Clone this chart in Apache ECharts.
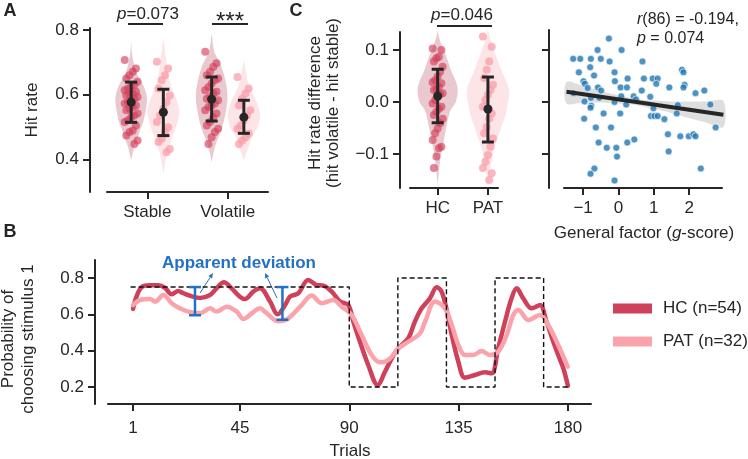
<!DOCTYPE html>
<html><head><meta charset="utf-8">
<script src="https://cdn.jsdelivr.net/npm/echarts@6/dist/echarts.min.js"></script>
<style>html,body{margin:0;padding:0;background:#fff}#c{width:748px;height:459px}</style>
</head><body><div id="c"></div>
<script>
// ---------------- DATA ----------------
// Panel A: hit rate per condition (strip points)
const conditionsA = ['Stable', 'Volatile'];
const hitHC_Stable = [0.707,0.681,0.671,0.660,0.650,0.640,0.630,0.625,0.619,0.614,0.609,0.604,0.601,0.598,0.593,0.588,0.583,0.578,0.573,0.567,0.562,0.557,0.552,0.542,0.536,0.531,0.521,0.516,0.505,0.490,0.485,0.474,0.459,0.448];
const hitPAT_Stable = [0.702,0.681,0.660,0.645,0.619,0.598,0.578,0.557,0.536,0.516,0.500,0.485,0.464,0.454,0.433,0.423];
const hitHC_Volatile = [0.733,0.697,0.686,0.671,0.660,0.650,0.645,0.635,0.624,0.614,0.609,0.604,0.593,0.588,0.583,0.573,0.567,0.562,0.552,0.542,0.531,0.516,0.505,0.495,0.485,0.469,0.448];
const hitPAT_Volatile = [0.655,0.619,0.604,0.588,0.567,0.552,0.536,0.521,0.505,0.495,0.480,0.469,0.459,0.448];
// Panel A: mean and error bars [Stable, Volatile]
const hitMeanHC = [0.577, 0.586], hitLowHC = [0.515, 0.519], hitHighHC = [0.639, 0.655];
const hitMeanPAT = [0.546, 0.531], hitLowPAT = [0.474, 0.481], hitHighPAT = [0.617, 0.583];
// Panel A violin outlines: [hit rate, half width]
const violinHC_Stable = [[0.765,0],[0.73,0.01],[0.70,0.03],[0.66,0.08],[0.63,0.15],[0.60,0.19],[0.578,0.196],[0.55,0.18],[0.516,0.15],[0.49,0.11],[0.464,0.075],[0.44,0.04],[0.42,0.02],[0.397,0]];
const violinPAT_Stable = [[0.775,0],[0.71,0.033],[0.66,0.06],[0.61,0.12],[0.58,0.17],[0.552,0.196],[0.52,0.18],[0.495,0.15],[0.47,0.11],[0.443,0.075],[0.42,0.045],[0.40,0.03],[0.356,0]];
const violinHC_Volatile = [[0.79,0],[0.733,0.033],[0.70,0.10],[0.65,0.165],[0.598,0.196],[0.547,0.175],[0.495,0.125],[0.454,0.06],[0.418,0.02],[0.392,0]];
const violinPAT_Volatile = [[0.707,0],[0.66,0.033],[0.63,0.06],[0.609,0.10],[0.57,0.17],[0.536,0.2],[0.50,0.17],[0.474,0.11],[0.433,0.05],[0.397,0]];

// Panel C left: hit rate difference (volatile - stable)
const groupsC = ['HC', 'PAT'];
const diffHC = [0.103,0.100,0.087,0.084,0.078,0.068,0.058,0.049,0.042,0.038,0.036,0.029,0.025,0.023,0.017,0.015,0.010,0.004,-0.003,-0.009,-0.013,-0.019,-0.025,-0.032,-0.041,-0.051,-0.060,-0.073,-0.086,-0.089,-0.105,-0.127];
const diffPAT = [0.126,0.106,0.078,0.062,0.046,0.033,0.023,0.014,0.004,-0.009,-0.022,-0.032,-0.048,-0.060,-0.070,-0.086,-0.102,-0.115,-0.127,-0.137,-0.150];
const diffMean = [0.0115, -0.0135], diffLow = [-0.040, -0.077], diffHigh = [0.063, 0.048];
const violinC_HC = [[0.137,0],[0.12,0.04],[0.10,0.12],[0.08,0.2],[0.062,0.26],[0.04,0.36],[0.023,0.4],[0.0,0.36],[-0.015,0.26],[-0.035,0.2],[-0.054,0.16],[-0.075,0.12],[-0.092,0.08],[-0.12,0.04],[-0.16,0]];
const violinC_PAT = [[0.14,0],[0.12,0.05],[0.10,0.12],[0.068,0.24],[0.04,0.36],[0.023,0.42],[0.0,0.40],[-0.028,0.34],[-0.05,0.26],[-0.073,0.18],[-0.09,0.12],[-0.112,0.08],[-0.13,0.04],[-0.16,0]];

// Panel C right: g-score vs hit rate difference
const gScore = [-0.27,-0.59,0.09,-1.28,-1.08,-0.78,-0.50,-0.25,-0.80,-1.12,-0.11,-0.69,-0.99,-0.95,-0.10,0.26,-0.87,-0.58,-0.49,0.06,0.24,-1.27,-0.78,-0.54,-0.96,-0.77,-0.79,-0.11,0.08,0.22,0.43,0.50,-0.97,-0.42,0.05,-0.64,-0.21,-0.56,-0.33,-0.06,0.25,0.45,-0.04,-0.68,-0.79,-0.11,0.68,0.72,0.97,1.11,1.07,0.66,0.90,1.44,0.92,1.02,1.11,1.30,1.80,1.84,1.87,1.84,2.18,2.43,1.68,1.65,2.60,2.75,1.40,1.75,1.99,2.12,2.18,1.42,2.33,0.99];
const gHitDiff = [0.122,0.100,0.100,0.083,0.083,0.083,0.083,0.078,0.067,0.057,0.057,0.051,0.040,0.035,0.040,0.045,0.027,0.028,0.022,0.028,0.028,0.017,0.008,0.008,0.001,-0.007,-0.011,0.0,0.011,-0.005,0.011,0.005,-0.032,-0.022,-0.022,-0.049,-0.049,-0.078,-0.088,-0.088,-0.078,-0.072,-0.105,-0.128,-0.138,-0.151,0.078,0.045,0.045,0.045,0.035,0.022,0.010,0.028,-0.027,-0.027,-0.027,-0.033,0.062,0.057,0.033,0.028,0.017,0.022,-0.006,-0.022,-0.005,-0.049,-0.062,-0.066,-0.066,-0.062,-0.066,-0.095,-0.128,-0.012];
const regG = [-1.47, 2.97], regV = [0.0196, -0.0244];
const bandG = [-1.47,-1,-0.5,0,0.5,1,1.5,2,2.5,2.97];
const bandLo = [-0.003,-0.001,-0.001,-0.003,-0.006,-0.013,-0.021,-0.031,-0.040,-0.048];
const bandHi = [0.039,0.031,0.021,0.013,0.006,0.003,0.001,0.001,0.001,0.002];

// Panel B: probability of choosing stimulus 1 across trials
const trialTicks = [1, 45, 90, 135, 180];
const trialsHC = [1,2.5,4.6,8,11.4,14.2,16.9,19.6,21.7,25,28.6,32.7,35.4,38.4,41.6,45,47.1,50.5,53.3,57.4,60.5,63.6,65.6,69,73.1,76.6,79.3,82.8,86.2,89.6,91.7,94.4,97.8,101.7,104.7,107.5,110.2,114.3,117,119.8,123.2,126,128,130.1,132.2,134.9,137.6,141.7,145.9,148.6,151.3,154.1,156.8,158.9,161.6,165.1,168.5,171.2,174,176,178.1,180];
const probHC = [0.63,0.70,0.75,0.76,0.76,0.745,0.71,0.728,0.716,0.70,0.69,0.706,0.743,0.776,0.743,0.697,0.684,0.725,0.743,0.67,0.60,0.651,0.697,0.716,0.789,0.761,0.758,0.725,0.67,0.651,0.559,0.449,0.321,0.211,0.284,0.358,0.413,0.468,0.559,0.633,0.688,0.749,0.725,0.624,0.486,0.339,0.251,0.266,0.281,0.275,0.413,0.559,0.688,0.743,0.688,0.633,0.651,0.559,0.449,0.376,0.303,0.207];
const trialsPAT = [1,3.9,8,10.1,13.5,16.9,20.3,23.7,28.6,32.7,35.4,39.6,43.7,46.4,49.9,53.3,55.3,60.8,64.9,70.4,74.5,78.7,83.4,86.9,91,95.1,99.2,102.6,105.4,108.1,110.2,114.3,119.1,121.2,125.3,129.4,132.2,134.9,137.6,141,144.5,147.9,151.3,154.8,157.5,159.6,163.7,168.5,171.9,176,179.9];
const probPAT = [0.651,0.679,0.684,0.670,0.706,0.661,0.633,0.615,0.606,0.633,0.615,0.642,0.615,0.574,0.606,0.633,0.615,0.562,0.578,0.651,0.703,0.661,0.679,0.642,0.596,0.486,0.376,0.336,0.343,0.376,0.413,0.449,0.495,0.559,0.670,0.633,0.541,0.431,0.376,0.376,0.398,0.376,0.394,0.486,0.596,0.624,0.569,0.596,0.541,0.431,0.312];
const trueT = [0,90,90,110,110,130,130,150,150,170,170,180];
const trueP = [0.75,0.75,0.2,0.2,0.8,0.8,0.2,0.2,0.8,0.8,0.2,0.2];
const devT = [26.5, 62.5], devTop = [0.75, 0.75], devBottom = [0.595, 0.57];

// ---------------- STYLE ----------------
const FONT = "'Liberation Sans', Arial, sans-serif";
const INK = '#262626';
const HC_COL = '#cf415b', PAT_COL = '#fba3ab';
const BLUE = '#2470c4';
const FS = 17;

const chart = echarts.init(document.getElementById('c'), null, {renderer: 'canvas'});

function axisBase(extra) {
  return Object.assign({
    type: 'value',
    axisLine: {show: true, onZero: false, lineStyle: {color: INK, width: 2}},
    axisTick: {show: true, length: 7, lineStyle: {color: INK, width: 2}},
    axisLabel: {color: INK, fontSize: FS, fontFamily: FONT},
    splitLine: {show: false}
  }, extra);
}
function ticks(vals, fmt, margin, showLabel) {
  return {
    axisTick: {show: true, length: 7, lineStyle: {color: INK, width: 2}, customValues: vals},
    axisLabel: {show: showLabel !== false, customValues: vals, formatter: fmt, color: INK, fontSize: FS, fontFamily: FONT, margin: margin}
  };
}
function jitter(i, amp) { return (((i * 7) % 9) - 4) / 4 * amp; }

function violin(xi, center, profile, color) {
  return {
    type: 'custom', xAxisIndex: xi, yAxisIndex: xi, z: 1, silent: true, data: [[center]],
    renderItem: (params, api) => {
      const pts = [];
      profile.forEach(p => pts.push(api.coord([center + p[1], p[0]])));
      for (let i = profile.length - 1; i >= 0; i--) pts.push(api.coord([center - profile[i][1], profile[i][0]]));
      return {type: 'polygon', shape: {points: pts, smooth: 0.35}, style: {fill: color}};
    }
  };
}
function strip(xi, center, vals, color, amp) {
  return {
    type: 'scatter', xAxisIndex: xi, yAxisIndex: xi, z: 2, silent: true,
    symbolSize: 8, itemStyle: {color: color, opacity: 1},
    data: vals.map((v, i) => [center + jitter(i, amp), v])
  };
}
function errbars(xi, data, cap) {
  return {
    type: 'custom', xAxisIndex: xi, yAxisIndex: xi, z: 3, silent: true, data: data,
    renderItem: (params, api) => {
      const x = api.value(0);
      const t = api.coord([x, api.value(3)]), b = api.coord([x, api.value(2)]), m = api.coord([x, api.value(1)]);
      const st = {stroke: INK, lineWidth: 3};
      return {type: 'group', children: [
        {type: 'line', shape: {x1: t[0], y1: t[1], x2: b[0], y2: b[1]}, style: st},
        {type: 'line', shape: {x1: t[0] - cap, y1: t[1], x2: t[0] + cap, y2: t[1]}, style: st},
        {type: 'line', shape: {x1: b[0] - cap, y1: b[1], x2: b[0] + cap, y2: b[1]}, style: st},
        {type: 'circle', shape: {cx: m[0], cy: m[1], r: 4.5}, style: {fill: INK}}
      ]};
    }
  };
}

const HC_VIOLIN = 'rgba(196,110,130,0.38)', PAT_VIOLIN = 'rgba(250,172,182,0.33)';
const HC_DOT = 'rgba(212,58,86,0.62)', PAT_DOT = 'rgba(250,158,170,0.75)';
const offA = 0.2; // group offset within condition
const series = [
  violin(0, 0 - offA, violinHC_Stable, HC_VIOLIN),
  violin(0, 0 + offA, violinPAT_Stable, PAT_VIOLIN),
  violin(0, 1 - offA, violinHC_Volatile, HC_VIOLIN),
  violin(0, 1 + offA, violinPAT_Volatile, PAT_VIOLIN),
  strip(0, 0 - offA, hitHC_Stable, HC_DOT, 0.08),
  strip(0, 0 + offA, hitPAT_Stable, PAT_DOT, 0.08),
  strip(0, 1 - offA, hitHC_Volatile, HC_DOT, 0.08),
  strip(0, 1 + offA, hitPAT_Volatile, PAT_DOT, 0.08),
  errbars(0, [0, 1].map(i => [i - offA, hitMeanHC[i], hitLowHC[i], hitHighHC[i]]).concat(
             [0, 1].map(i => [i + offA, hitMeanPAT[i], hitLowPAT[i], hitHighPAT[i]])), 6),
  // Panel C left
  violin(1, 0, violinC_HC, HC_VIOLIN),
  violin(1, 1, violinC_PAT, PAT_VIOLIN),
  strip(1, 0, diffHC, HC_DOT, 0.1),
  strip(1, 1, diffPAT, PAT_DOT, 0.1),
  errbars(1, [0, 1].map(i => [i, diffMean[i], diffLow[i], diffHigh[i]]), 6),
  // Panel C right
  {
    type: 'custom', xAxisIndex: 2, yAxisIndex: 2, z: 1, silent: true, data: [[0]],
    renderItem: (params, api) => {
      const pts = [];
      bandG.forEach((g, i) => pts.push(api.coord([g, bandHi[i]])));
      for (let i = bandG.length - 1; i >= 0; i--) pts.push(api.coord([bandG[i], bandLo[i]]));
      return {type: 'polygon', shape: {points: pts, smooth: 0.3}, style: {fill: 'rgba(160,160,160,0.35)'}};
    }
  },
  {
    type: 'scatter', xAxisIndex: 2, yAxisIndex: 2, z: 2, silent: true, symbolSize: 7,
    itemStyle: {color: '#2077b4', borderColor: '#ffffff', borderWidth: 0.8},
    data: gScore.map((g, i) => [g, gHitDiff[i]])
  },
  {
    type: 'line', xAxisIndex: 2, yAxisIndex: 2, z: 3, silent: true, showSymbol: false,
    lineStyle: {color: INK, width: 4}, data: regG.map((g, i) => [g, regV[i]])
  },
  // Panel B
  {
    name: 'HC (n=54)', type: 'line', xAxisIndex: 3, yAxisIndex: 3, z: 2, showSymbol: false, smooth: 0.35,
    itemStyle: {color: HC_COL}, lineStyle: {color: HC_COL, width: 4.5, cap: 'round'},
    data: trialsHC.map((t, i) => [t, probHC[i]])
  },
  {
    name: 'PAT (n=32)', type: 'line', xAxisIndex: 3, yAxisIndex: 3, z: 3, showSymbol: false, smooth: 0.35,
    itemStyle: {color: PAT_COL}, lineStyle: {color: PAT_COL, width: 4.5, cap: 'round'},
    data: trialsPAT.map((t, i) => [t, probPAT[i]])
  },
  {
    type: 'line', xAxisIndex: 3, yAxisIndex: 3, z: 4, showSymbol: false, silent: true,
    lineStyle: {color: '#111', width: 1.4, type: [5, 3]},
    data: trueT.map((t, i) => [t, trueP[i]])
  },
  {
    type: 'custom', xAxisIndex: 3, yAxisIndex: 3, z: 5, silent: true,
    data: devT.map((t, i) => [t, devTop[i], devBottom[i]]),
    renderItem: (params, api) => {
      const t = api.coord([api.value(0), api.value(1)]), b = api.coord([api.value(0), api.value(2)]);
      const st = {stroke: BLUE, lineWidth: 2.5};
      return {type: 'group', children: [
        {type: 'line', shape: {x1: t[0], y1: t[1], x2: b[0], y2: b[1]}, style: st},
        {type: 'line', shape: {x1: t[0] - 6, y1: t[1], x2: t[0] + 6, y2: t[1]}, style: st},
        {type: 'line', shape: {x1: b[0] - 6, y1: b[1], x2: b[0] + 6, y2: b[1]}, style: st}
      ]};
    }
  }
];

function txt(x, y, text, opt) {
  return Object.assign({type: 'text', x: x, y: y, silent: true, style: Object.assign({
    text: text, fill: INK, fontSize: FS, fontFamily: FONT, align: 'center', verticalAlign: 'middle'
  }, (opt && opt.style) || {})}, (opt && opt.el) || {});
}
function richP(x, y, pre, rest, align, fs) {
  const f = fs || FS;
  return {type: 'text', x: x, y: y, silent: true, style: {
    text: '{i|' + pre + '}{n|' + rest + '}', align: align || 'center', verticalAlign: 'middle',
    rich: {i: {fontStyle: 'italic', fontSize: f, fontFamily: FONT, fill: INK}, n: {fontSize: f, fontFamily: FONT, fill: INK}}
  }};
}
function hline(x1, x2, y) {
  return {type: 'line', silent: true, shape: {x1: x1, y1: y, x2: x2, y2: y}, style: {stroke: INK, lineWidth: 2}};
}
function arrow(x1, y1, x2, y2) {
  const dx = x2 - x1, dy = y2 - y1, L = Math.hypot(dx, dy), ux = dx / L, uy = dy / L;
  const hl = 5, hw = 2.2;
  const bx = x2 - ux * hl, by = y2 - uy * hl;
  return {type: 'group', silent: true, children: [
    {type: 'line', shape: {x1: x1, y1: y1, x2: bx, y2: by}, style: {stroke: BLUE, lineWidth: 1}},
    {type: 'polygon', shape: {points: [[x2, y2], [bx - uy * hw, by + ux * hw], [bx + uy * hw, by - ux * hw]]}, style: {fill: BLUE}}
  ]};
}

const graphic = [
  txt(10, 11, 'A', {style: {fontWeight: 'bold', fontSize: 18}}),
  txt(10, 232, 'B', {style: {fontWeight: 'bold', fontSize: 18}}),
  txt(296, 11, 'C', {style: {fontWeight: 'bold', fontSize: 18}}),
  txt(32, 110, 'Hit rate', {el: {rotation: Math.PI / 2}}),
  txt(324, 103, 'Hit rate difference\n(hit volatile - hit stable)', {el: {rotation: Math.PI / 2}, style: {lineHeight: 18}}),
  txt(18, 339, 'Probability of\nchoosing stimulus 1', {el: {rotation: Math.PI / 2}, style: {lineHeight: 20}}),
  txt(350, 451, 'Trials'),
  {type: 'text', x: 644, y: 233, silent: true, style: {
    text: '{n|General factor (}{i|g}{n|-score)}', align: 'center', verticalAlign: 'middle',
    rich: {i: {fontStyle: 'italic', fontSize: FS, fontFamily: FONT, fill: INK}, n: {fontSize: FS, fontFamily: FONT, fill: INK}}
  }},
  richP(148, 14, 'p', '=0.073'),
  hline(128, 163, 24),
  txt(230, 22, '***', {style: {fontSize: 24}}),
  hline(212, 248, 24),
  richP(462, 15, 'p', '=0.046'),
  hline(437, 492, 26),
  richP(637, 20, 'r', '(86) = -0.194,', 'left', 16),
  richP(637, 39, 'p', ' = 0.074', 'left', 16),
  txt(239, 263, 'Apparent deviation', {style: {fontWeight: 'bold', fill: BLUE}}),
  arrow(200, 293, 213, 273),
  arrow(277, 298, 265, 273)
];

const option = {
  animation: false,
  backgroundColor: '#ffffff',
  textStyle: {fontFamily: FONT},
  grid: [
    {left: 107, top: 28, width: 161, height: 164},
    {left: 410, top: 32, width: 88, height: 156},
    {left: 564, top: 30, width: 158, height: 158},
    {left: 108, top: 260, width: 483, height: 144}
  ],
  xAxis: [
    axisBase(Object.assign({gridIndex: 0, min: -0.5, max: 1.5}, ticks([0, 1], v => conditionsA[Math.round(v)], 12))),
    axisBase(Object.assign({gridIndex: 1, min: -0.55, max: 1.2}, ticks([0, 1], v => groupsC[Math.round(v)], 12))),
    axisBase(Object.assign({gridIndex: 2, min: -1.54, max: 2.93}, ticks([-1, 0, 1, 2], v => (v < 0 ? '\u2212' + Math.abs(v) : String(v)), 12))),
    axisBase(Object.assign({gridIndex: 3, min: -9.3, max: 189.5}, ticks(trialTicks, v => String(v), 16)))
  ],
  yAxis: [
    axisBase(Object.assign({gridIndex: 0, min: 0.3, max: 0.806, offset: 17}, ticks([0.4, 0.6, 0.8], v => v.toFixed(1), 11))),
    axisBase(Object.assign({gridIndex: 1, min: -0.1654, max: 0.1346, offset: 10}, ticks([-0.1, 0, 0.1], v => (v < -1e-9 ? '\u2212' + Math.abs(v).toFixed(1) : Math.abs(v).toFixed(1)), 11))),
    axisBase(Object.assign({gridIndex: 2, min: -0.1654, max: 0.1385, offset: 15}, ticks([-0.1, 0, 0.1], v => '', 11, false))),
    axisBase(Object.assign({gridIndex: 3, min: 0.1064, max: 0.899, offset: 13}, ticks([0.2, 0.4, 0.6, 0.8], v => v.toFixed(1), 11)))
  ],
  legend: {
    data: ['HC (n=54)', 'PAT (n=32)'], orient: 'vertical', left: 613, top: 300, padding: 0,
    itemWidth: 39, itemHeight: 10, itemGap: 16, icon: 'rect', selectedMode: false,
    textStyle: {fontSize: FS, color: INK, fontFamily: FONT, padding: [0, 0, 0, 6]}
  },
  series: series,
  graphic: graphic
};
chart.setOption(option);
</script></body></html>
